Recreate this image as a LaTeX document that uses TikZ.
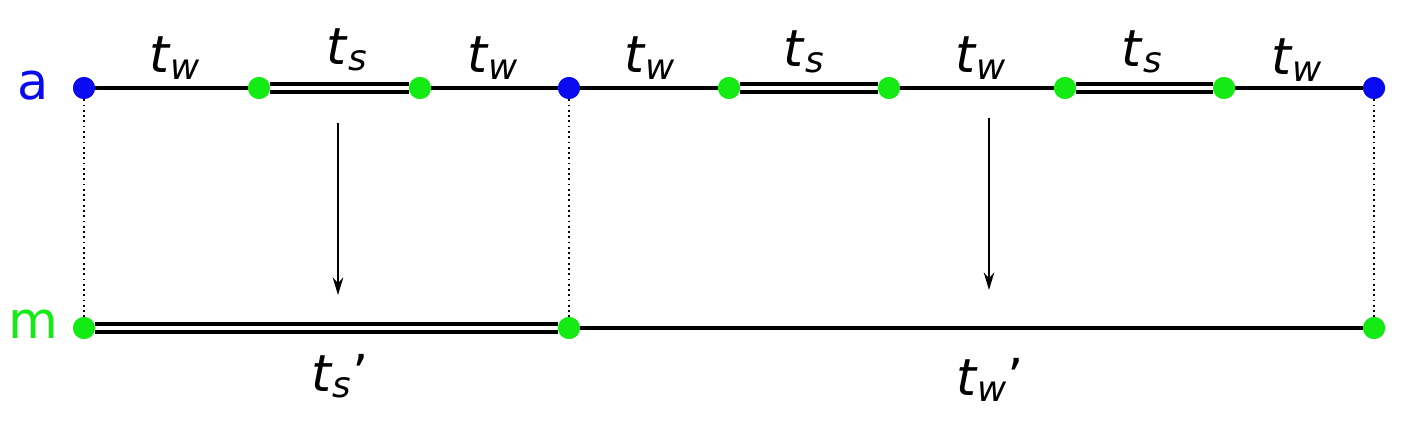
\documentclass[tikz,border=0pt]{standalone}
\usepackage{fontspec}
\setmainfont{DejaVu Sans}
\usepackage{tikz}
\usetikzlibrary{arrows.meta}
\definecolor{dotgreen}{RGB}{20,235,20}
\definecolor{dotblue}{RGB}{10,10,240}
\tikzset{
  dot/.style={circle,fill=#1,inner sep=0pt,minimum size=0.44cm},
  lbl/.style={font=\fontsize{29}{32}\selectfont},
  wline/.style={line width=2.2pt},
  sline/.style={double,double distance=2.6pt,line width=1.9pt},
  drop/.style={dotted,line width=1pt},
}
\newcommand{\tsub}[1]{\textit{t}\textsubscript{\textit{#1}}}
\begin{document}
\begin{tikzpicture}[x=0.02cm,y=-0.02cm]
        \useasboundingbox (0,0) rectangle (1407,426);
        % top row
        \node[dot=dotblue]  (a0) at (84,88) {};
        \node[dot=dotgreen] (a1) at (259,88) {};
        \node[dot=dotgreen] (a2) at (420,88) {};
        \node[dot=dotblue]  (a3) at (569,88) {};
        \node[dot=dotgreen] (a4) at (729,88) {};
        \node[dot=dotgreen] (a5) at (889,88) {};
        \node[dot=dotgreen] (a6) at (1065,88) {};
        \node[dot=dotgreen] (a7) at (1224,88) {};
        \node[dot=dotblue]  (a8) at (1374,88) {};
        % bottom row
        \node[dot=dotgreen] (m0) at (84,328) {};
        \node[dot=dotgreen] (m1) at (569,328) {};
        \node[dot=dotgreen] (m2) at (1374,328) {};
        \node[lbl,text=dotblue]  (la) at (33,86) {a};
        \node[lbl,text=dotgreen] (lm) at (33,324) {m};
        \draw[wline] (a0) -- (a1);
        \draw[sline] (a1) -- (a2);
        \draw[wline] (a2) -- (a3) -- (a4);
        \draw[sline] (a4) -- (a5);
        \draw[wline] (a5) -- (a6);
        \draw[sline] (a6) -- (a7);
        \draw[wline] (a7) -- (a8);
        \draw[sline] (m0) -- (m1);
        \draw[wline] (m1) -- (m2);
        \draw[drop] (a0) -- (m0);
        \draw[drop] (a3) -- (m1);
        \draw[drop] (a8) -- (m2);
        % labels over the segments
        \node[lbl] (w1) at (175,58) {\tsub{w}};
        \node[lbl] (s1) at (347,50) {\tsub{s}};
        \node[lbl] (w2) at (493,58) {\tsub{w}};
        \node[lbl] (w3) at (650,58) {\tsub{w}};
        \node[lbl] (s2) at (804,52) {\tsub{s}};
        \node[lbl] (w4) at (981,58) {\tsub{w}};
        \node[lbl] (s3) at (1142,52) {\tsub{s}};
        \node[lbl] (w5) at (1297,60) {\tsub{w}};
        \node[lbl] (s4) at (340,376) {\tsub{s}'};
        \node[lbl] (w6) at (990,380) {\tsub{w}'};
        % arrows
        \coordinate (p1) at (338,123);
        \coordinate (q1) at (338,295);
        \coordinate (p2) at (989,118);
        \coordinate (q2) at (989,290);
        \draw[-{Stealth[length=10pt,width=6pt]},line width=1pt] (p1) -- (q1);
        \draw[-{Stealth[length=10pt,width=6pt]},line width=1pt] (p2) -- (q2);
        % redraw dots above lines
        \foreach \n/\c in {a0/dotblue,a1/dotgreen,a2/dotgreen,a3/dotblue,a4/dotgreen,a5/dotgreen,a6/dotgreen,a7/dotgreen,a8/dotblue,m0/dotgreen,m1/dotgreen,m2/dotgreen}
          \fill[\c] (\n) circle (0.22cm);
\end{tikzpicture}
\end{document}
